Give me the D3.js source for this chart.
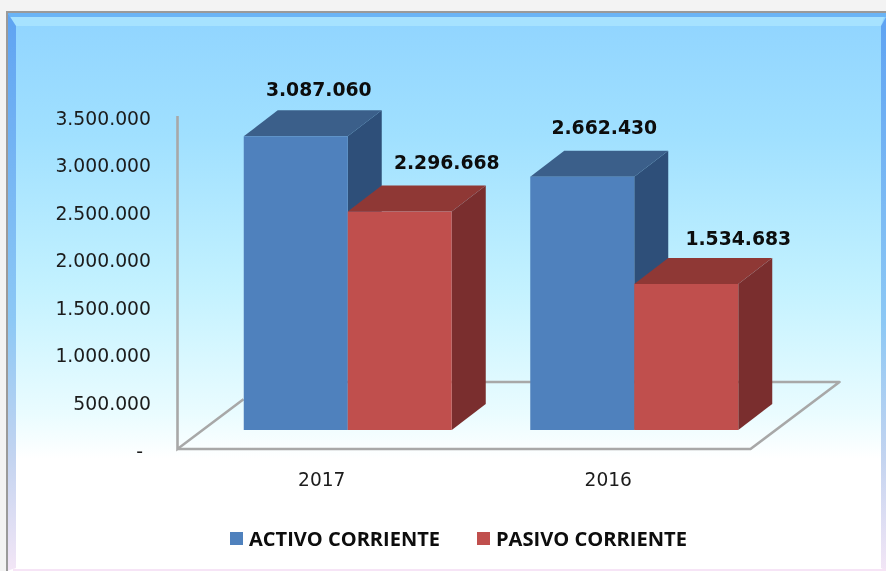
<!DOCTYPE html>
<html><head><meta charset="utf-8">
<script src="https://cdn.jsdelivr.net/npm/d3@7/dist/d3.min.js"></script>
<style>html,body{margin:0;padding:0;background:#f3f3f3;overflow:hidden}svg{display:block}</style>
</head><body><svg id="c" width="886" height="571"></svg>
<script>
const categories = ["2017", "2016"];
const seriesNames = ["ACTIVO CORRIENTE", "PASIVO CORRIENTE"];
const activo = [3087060, 2662430];
const pasivo = [2296668, 1534683];
const tickValues = [0, 500000, 1000000, 1500000, 2000000, 2500000, 3000000, 3500000];
const seriesFront = ["#4f81bd", "#c0504d"];
const seriesTop = ["#3b5f8a", "#8f3735"];
const seriesSide = ["#2f5079", "#7a2f2d"];

const W = 886, H = 571;
const svg = d3.select("#c");
const defs = svg.append("defs");
const soft = defs.append("filter").attr("id","soft").attr("x","-2%").attr("y","-2%").attr("width","104%").attr("height","104%");
soft.append("feGaussianBlur").attr("stdDeviation",0.45);
const bg = defs.append("linearGradient").attr("id","bg").attr("x1",0).attr("y1",0).attr("x2",0).attr("y2",1);
[[0,"#90d4ff"],[0.22,"#a0e0ff"],[0.5,"#c4f2ff"],[0.72,"#eafcff"],[0.8,"#ffffff"],[1,"#ffffff"]].forEach(d=>bg.append("stop").attr("offset",d[0]).attr("stop-color",d[1]));
const lb = defs.append("linearGradient").attr("id","lb").attr("x1",0).attr("y1",0).attr("x2",0).attr("y2",1);
[[0,"#5fa3f2"],[0.55,"#8cc8f5"],[0.8,"#c4d4f0"],[1,"#f3e6f6"]].forEach(d=>lb.append("stop").attr("offset",d[0]).attr("stop-color",d[1]));
const root = svg.append("g").attr("filter","url(#soft)");

// panel
const L=7, T=12, R=886, B=571;
root.append("rect").attr("x",L).attr("y",T).attr("width",R-L).attr("height",B-T).attr("fill","url(#bg)");
root.append("polygon").attr("points",`${L+3},${T+5} ${R-2},${T+5} ${R-5},${T+14} ${L+9},${T+14}`).attr("fill","#a6e2ff");
root.append("polygon").attr("points",`${L},${T} ${R},${T} ${R},${T+5} ${L+3},${T+5}`).attr("fill","#6bb4f6");
root.append("polygon").attr("points",`${L},${T} ${L+9},${T+14} ${L+9},${B-3} ${L},${B}`).attr("fill","url(#lb)");
root.append("polygon").attr("points",`${R},${T+5} ${R-5},${T+14} ${R-5},${B-3} ${R},${B}`).attr("fill","url(#lb)");
root.append("rect").attr("x",L+6).attr("y",B-2).attr("width",R-L).attr("height",2).attr("fill","#f6e4f6");
root.append("path").attr("d",`M${L},${B}V${T}H${R}`).attr("fill","none").attr("stroke","#9a9a9a").attr("stroke-width",2);

// scales
const x0 = 177.5, x1 = 750.5;
const y = d3.scaleLinear().domain([0,3500000]).range([450,117]);
const x = d3.scaleBand().domain(categories).range([x0,x1]);
const depth = {dx:89, dy:-67};
const barDepth = {dx:34, dy:-26};
const planeDx = 27, planeDy = -20;
const barW = 104;
const gridC = "#a8a8a8";

// floor and wall
root.append("path")
  .attr("d",`M${x0},${y.range()[1]-1}V${y(0)-1}L${x0+depth.dx-23},${y(0)-1+depth.dy*(66/89)}`)
  .attr("fill","none").attr("stroke",gridC).attr("stroke-width",2.6);
root.append("path")
  .attr("d",`M${x0},${y(0)-1}H${x1}L${x1+depth.dx},${y(0)-1+depth.dy}H${x0+depth.dx}`)
  .attr("fill","none").attr("stroke",gridC).attr("stroke-width",2.6).attr("stroke-linejoin","round");

// bars
const series = [activo, pasivo];
const labelNudge = [[[23,0],[47,-2]],[[22,-3],[52,1]]];
function bar(g, cat, val, s){
  const c = categories.indexOf(cat);
  const xl = x(cat) + x.bandwidth()/2 + planeDx - barW + s*barW;
  const xr = xl + barW;
  const yb = y(0) + planeDy, yt = y(val) + planeDy;
  const d = barDepth;
  g.append("polygon").attr("points",[[xr,yt],[xr+d.dx,yt+d.dy],[xr+d.dx,yb+d.dy],[xr,yb]].join(" ")).attr("fill",seriesSide[s]);
  g.append("polygon").attr("points",[[xl,yt],[xl+d.dx,yt+d.dy],[xr+d.dx,yt+d.dy],[xr,yt]].join(" ")).attr("fill",seriesTop[s]);
  g.append("rect").attr("x",xl).attr("y",yt).attr("width",barW).attr("height",yb-yt).attr("fill",seriesFront[s]);
  g.append("text").attr("x",xl+barW/2+labelNudge[c][s][0]).attr("y",yt+d.dy-14+labelNudge[c][s][1])
    .attr("text-anchor","middle").attr("font-family","DejaVu Sans").attr("font-weight","bold").attr("font-size",18.8).attr("fill","#0a0a0a")
    .text(d3.format(",")(val).replace(/,/g,"."));
}
const gb = root.append("g");
categories.forEach((c,i)=>{ series.forEach((v,s)=>bar(gb,c,v[i],s)); });

// axes
const fmt = v => v===0 ? "-" : d3.format(",")(v).replace(/,/g,".");
const yAxis = d3.axisLeft(y).tickValues(tickValues).tickFormat(fmt).tickSize(0).tickPadding(0);
const gy = root.append("g").attr("transform","translate(151,1)").call(yAxis);
gy.select(".domain").remove();
gy.selectAll("text").attr("font-family","DejaVu Sans").attr("font-size",18.8).attr("fill","#1a1a1a");
gy.selectAll(".tick").filter(d=>d===0).select("text").attr("dx",-8);

const xAxis = d3.axisBottom(x).tickSize(0).tickPadding(0);
const gx = root.append("g").attr("transform","translate(1,473)").call(xAxis);
gx.select(".domain").remove();
gx.selectAll("text").attr("font-family","DejaVu Sans").attr("font-size",18.6).attr("fill","#1a1a1a");

// legend
const lg = root.append("g");
const lx = [230, 477], tw = [191, 191];
seriesNames.forEach((n,i)=>{
  lg.append("rect").attr("x",lx[i]).attr("y",532).attr("width",13).attr("height",13).attr("fill",seriesFront[i]);
  lg.append("text").attr("x",lx[i]+19).attr("y",546).attr("font-family","Open Sans").attr("font-weight","bold").attr("font-size",19.5)
    .attr("textLength",tw[i]).attr("lengthAdjust","spacingAndGlyphs").attr("fill","#0a0a0a").text(n);
});
</script></body></html>
